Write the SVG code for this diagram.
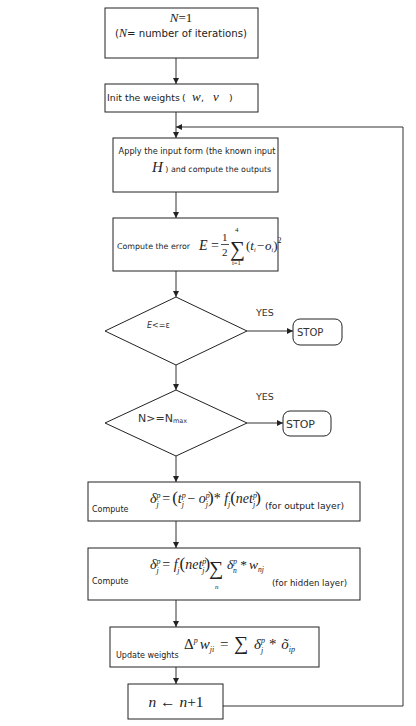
<svg xmlns="http://www.w3.org/2000/svg" width="416" height="726" viewBox="0 0 416 726">
<defs>
<marker id="ah" viewBox="0 0 10 10" refX="10" refY="5" markerWidth="6" markerHeight="6" orient="auto" markerUnits="userSpaceOnUse">
<path d="M0,0 L10,5 L0,10 z" fill="#222"/>
</marker>
<style>
.box{fill:#fff;stroke:#222;stroke-width:1}
.ln{fill:none;stroke:#333;stroke-width:1}
.t{font-family:"DejaVu Sans",Verdana,sans-serif;font-size:8.6px;fill:#222}
.m{font-family:"Liberation Serif","Times New Roman",serif;font-style:italic;font-size:14px;fill:#222}
.r{font-style:normal}
.s{font-size:8px}
.y{font-family:"DejaVu Sans",Verdana,sans-serif;font-size:9.5px;fill:#333}
.mi{font-family:"Liberation Serif","Times New Roman",serif;font-style:italic;font-size:13px}
</style>
</defs>
<rect width="416" height="726" fill="#fff"/>

<g id="connectors">
<line class="ln" x1="176" y1="58" x2="176" y2="84" marker-end="url(#ah)"/>
<line class="ln" x1="176" y1="112" x2="176" y2="138" marker-end="url(#ah)"/>
<line class="ln" x1="176" y1="192" x2="176" y2="218" marker-end="url(#ah)"/>
<line class="ln" x1="176" y1="271" x2="176" y2="297" marker-end="url(#ah)"/>
<line class="ln" x1="176" y1="365" x2="176" y2="390" marker-end="url(#ah)"/>
<line class="ln" x1="176" y1="456" x2="176" y2="482" marker-end="url(#ah)"/>
<line class="ln" x1="176" y1="521" x2="176" y2="548" marker-end="url(#ah)"/>
<line class="ln" x1="176" y1="600" x2="176" y2="627" marker-end="url(#ah)"/>
<line class="ln" x1="176" y1="667" x2="176" y2="684" marker-end="url(#ah)"/>
<line class="ln" x1="247" y1="331" x2="293" y2="331" marker-end="url(#ah)"/>
<line class="ln" x1="247" y1="423" x2="283" y2="423" marker-end="url(#ah)"/>
<polyline class="ln" points="223,706 403,706 403,127 176,127" marker-end="url(#ah)"/>
<text class="y" x="256" y="316">YES</text>
<text class="y" x="256" y="400">YES</text>
</g>

<g id="start">
<rect class="box" x="105" y="8" width="153" height="50"/>
<text class="m" x="181" y="22" text-anchor="middle" style="font-size:13px">N<tspan class="r">=1</tspan></text>
<text class="t" x="181" y="37" text-anchor="middle" style="font-size:10.2px">(<tspan style="font-family:'Liberation Serif',serif;font-style:italic;font-size:12px">N</tspan>= number of iterations)</text>
</g>

<g id="init">
<rect class="box" x="105" y="84" width="153" height="28"/>
<text class="t" x="107" y="101" style="font-size:9.4px">Init the weights <tspan x="182">(</tspan><tspan class="mi" x="192">w</tspan><tspan x="201">,</tspan><tspan class="mi" x="213">v</tspan><tspan x="229">)</tspan></text>
</g>

<g id="apply">
<rect class="box" x="113" y="138" width="165" height="54"/>
<text class="t" x="197" y="154" text-anchor="middle" style="font-size:8.2px">Apply the input form (the known input</text>
<text class="t" x="152" y="172" style="font-size:7.9px"><tspan style="font-family:'Liberation Serif',serif;font-style:italic;font-size:15px">H</tspan> ) and compute the outputs</text>
</g>

<g id="error">
<rect class="box" x="113" y="218" width="165" height="53"/>
<text class="t" x="117" y="249" style="font-size:7.9px">Compute the error</text>
<text class="m" x="199" y="250">E<tspan class="r"> =</tspan></text>
<text class="m r" x="222" y="241" style="font-size:11px">1</text>
<line x1="221" y1="244.5" x2="229" y2="244.5" stroke="#222" stroke-width="0.8"/>
<text class="m r" x="222" y="256" style="font-size:11px">2</text>
<text class="m r" x="230" y="256" style="font-size:21px">∑</text>
<text class="m r" x="235" y="232" style="font-size:7px">4</text>
<text class="m r" x="232" y="265" style="font-size:6.5px">i=1</text>
<text class="m" x="246" y="250" style="font-size:13px"><tspan class="r">(</tspan>t<tspan class="s" style="font-size:6px" dy="2">i</tspan><tspan class="r" dy="-2" dx="1">−</tspan><tspan dx="1">o</tspan><tspan class="s" style="font-size:6px" dy="2">i</tspan><tspan class="r" dy="-2">)</tspan><tspan class="r s" dy="-7">2</tspan></text>
</g>

<g id="check-error">
<polygon class="box" points="176,297 247,331 176,365 105,331"/>
<text class="y" x="147" y="328" style="font-size:8px"><tspan font-style="italic">E</tspan>&lt;=ε</text>
</g>

<g id="stop1">
<rect class="box" x="293" y="319" width="49" height="26" rx="7"/>
<text class="y" x="297" y="336" style="font-size:10px">STOP</text>
</g>

<g id="check-n">
<polygon class="box" points="176,390 247,423 176,456 105,423"/>
<text class="y" x="138" y="422" style="font-size:11px">N&gt;=N<tspan style="font-size:6.5px" dy="1">max</tspan></text>
</g>

<g id="stop2">
<rect class="box" x="283" y="411" width="48" height="25" rx="7"/>
<text class="y" x="286" y="428" style="font-size:11px">STOP</text>
</g>

<g id="output-delta">
<rect class="box" x="88" y="482" width="272" height="39"/>
<text class="t" x="92" y="512" style="font-size:8px">Compute</text>
<text class="m" x="150" y="503">δ<tspan class="s" dy="-5">p</tspan><tspan class="s" dx="-4" dy="9">j</tspan><tspan class="r" dy="-4"> =</tspan><tspan class="r" style="font-size:17px" dx="2">(</tspan>t<tspan class="s" dy="-5">p</tspan><tspan class="s" dx="-4" dy="9">j</tspan><tspan class="r" dy="-4"> − </tspan>o<tspan class="s" dy="-5">p</tspan><tspan class="s" dx="-4" dy="9">j</tspan><tspan class="r" style="font-size:17px" dy="-4">)</tspan><tspan class="r">* </tspan>f<tspan class="s" dy="-5">′</tspan><tspan class="s" dx="-2" dy="9">j</tspan><tspan class="r" style="font-size:17px" dy="-4">(</tspan>net<tspan class="s" dy="-5">p</tspan><tspan class="s" dx="-4" dy="9">j</tspan><tspan class="r" style="font-size:17px" dy="-4">)</tspan></text>
<text class="t" x="265" y="509" style="font-size:9.2px">(for output layer)</text>
</g>

<g id="hidden-delta">
<rect class="box" x="88" y="548" width="272" height="52"/>
<text class="t" x="92" y="584" style="font-size:8px">Compute</text>
<text class="m" x="150" y="569">δ<tspan class="s" dy="-5">p</tspan><tspan class="s" dx="-4" dy="9">j</tspan><tspan class="r" dy="-4"> = </tspan>f<tspan class="s" dy="-5">′</tspan><tspan class="s" dx="-2" dy="9">j</tspan><tspan class="r" style="font-size:17px" dy="-4">(</tspan>net<tspan class="s" dy="-5">p</tspan><tspan class="s" dx="-4" dy="9">j</tspan><tspan class="r" style="font-size:17px" dy="-4">)</tspan></text>
<text class="m r" x="209" y="575" style="font-size:20px">∑</text>
<text class="m" x="215" y="589" style="font-size:7px">n</text>
<text class="m" x="227" y="569" style="font-size:13.5px">δ<tspan class="s" style="font-size:7.5px" dy="-5">p</tspan><tspan class="s" style="font-size:7.5px" dx="-4" dy="9">n</tspan><tspan class="r" dy="-4"> *</tspan><tspan dx="2">w</tspan><tspan class="s" style="font-size:7.5px" dy="3">nj</tspan></text>
<text class="t" x="272" y="586" style="font-size:8.6px">(for hidden layer)</text>
</g>

<g id="update">
<rect class="box" x="110" y="627" width="209" height="40"/>
<text class="t" x="116" y="658" style="font-size:8px">Update weights</text>
<text class="m" x="184" y="649" style="font-size:15px"><tspan class="r">Δ</tspan><tspan class="s" dy="-6">p</tspan><tspan dy="6" dx="2">w</tspan><tspan class="s" dy="3">ji</tspan><tspan class="r" dy="-3" dx="2"> = </tspan><tspan class="r" style="font-size:20px" dy="1" dx="2">∑</tspan><tspan dy="-1" dx="2"> δ</tspan><tspan class="s" dy="-6">p</tspan><tspan class="s" dx="-4" dy="10">j</tspan><tspan class="r" dy="-4" dx="2"> * </tspan><tspan dx="1">õ</tspan><tspan class="s" dy="3">ip</tspan></text>
</g>

<g id="increment">
<rect class="box" x="128" y="684" width="95" height="35"/>
<text class="m" x="176" y="707" text-anchor="middle" style="font-size:15.5px">n <tspan class="r">←</tspan> n<tspan class="r">+1</tspan></text>
</g>
</svg>
